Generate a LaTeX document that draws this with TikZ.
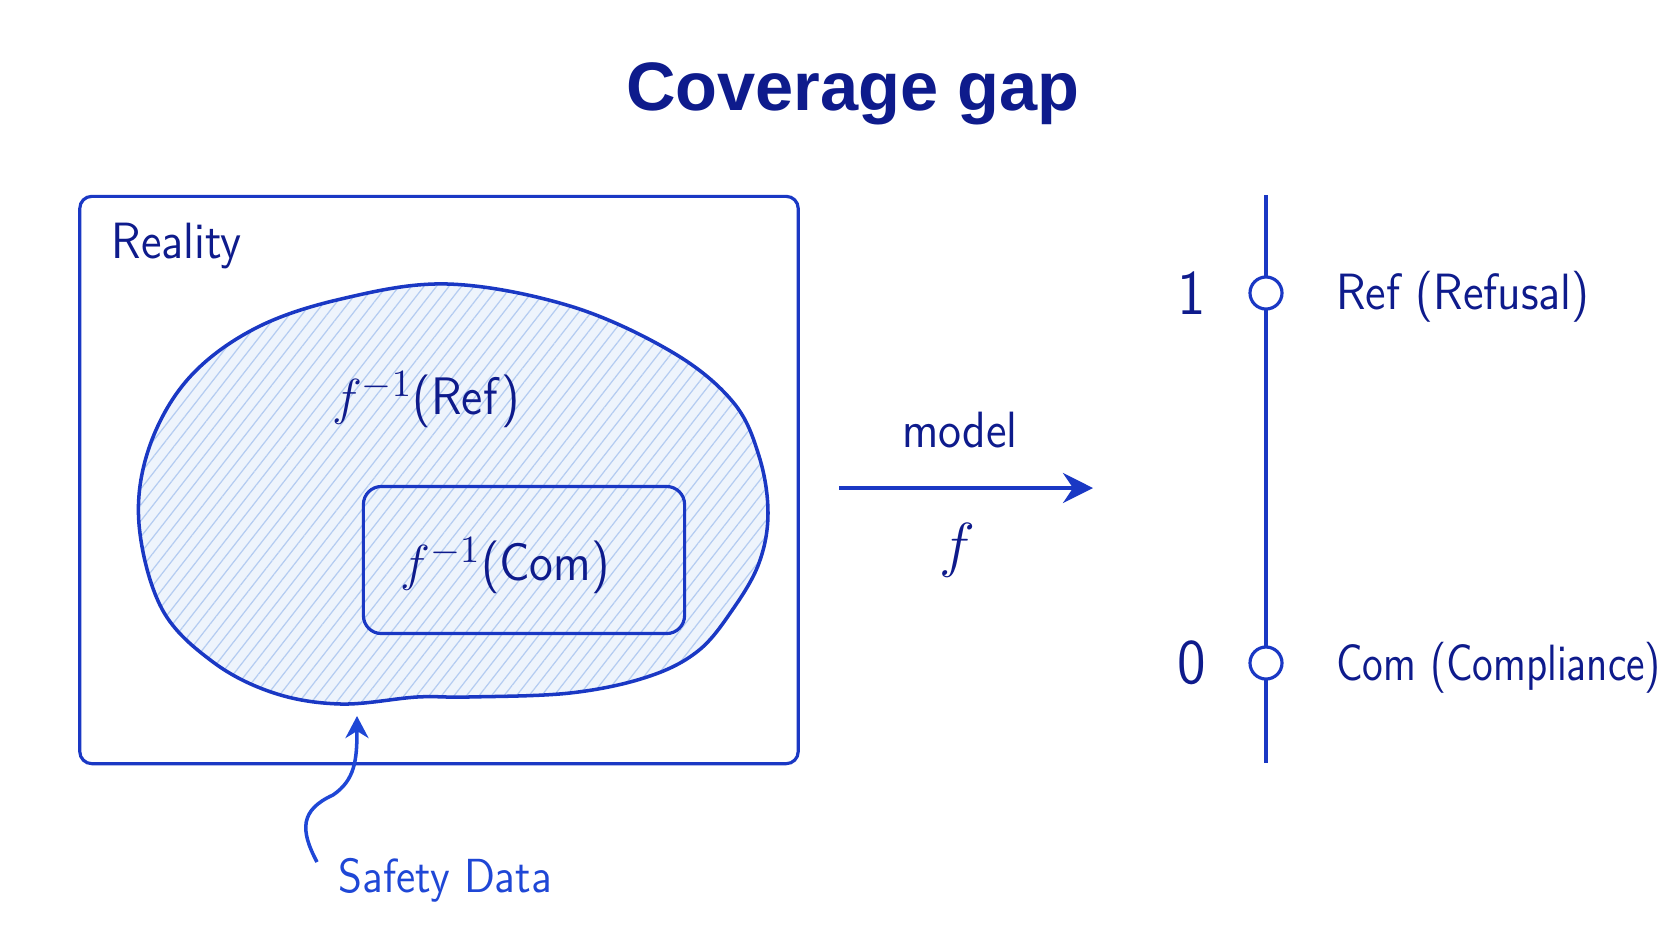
\documentclass[tikz,border=0pt]{standalone}
\usepackage{fontspec}
\newfontfamily\titlefont{Liberation Sans}
\newfontfamily\lblfont{lmsans12-regular.otf}[FakeStretch=0.92]
\newfontfamily\narrowfont{lmsans12-regular.otf}[FakeStretch=0.83]
\usepackage{tikz}
\usetikzlibrary{arrows.meta, positioning, patterns.meta}

\definecolor{navy}{HTML}{0E1B8C}
\definecolor{lineblue}{HTML}{1A38C4}
\definecolor{sdblue}{HTML}{1F47D6}
\definecolor{hatchbg}{HTML}{EEF4FC}
\definecolor{hatchln}{HTML}{B4CCF1}

\begin{document}
\begin{tikzpicture}[x=0.01cm, y=-0.01cm, >=Stealth,
    lbl/.style={text=navy, font=\lblfont\fontsize{14.5}{17}\selectfont, inner sep=0pt},
    numlbl/.style={text=navy, font=\lblfont\fontsize{18}{20}\selectfont, inner sep=0pt},
    realbox/.style={draw=lineblue, line width=0.9pt, rounded corners=1.2mm, inner sep=0pt},
    combox/.style={draw=lineblue, line width=0.9pt, rounded corners=1.8mm, inner sep=0pt},
    blobline/.style={draw=lineblue, line width=1pt},
    flow/.style={->, lineblue, line width=1pt, >={Stealth[length=3mm, width=3mm, inset=1mm]}},
    axisline/.style={lineblue, line width=0.9pt},
    dot/.style={circle, draw=lineblue, fill=white, line width=0.9pt, minimum size=0.32cm, inner sep=0pt},
    sdarrow/.style={->, sdblue, line width=1pt, >={Stealth[length=2.2mm, width=2.3mm, inset=0.7mm]}}]
  \useasboundingbox (0,0) rectangle (1672,941);
  \fill[white] (0,0) rectangle (1672,941);

  % Title
  \node[text=navy, font=\titlefont\bfseries\fontsize{19.5}{23}\selectfont] (title) at (853,94) {Coverage gap};

  % Reality frame
  \node[realbox, minimum width=7.18cm, minimum height=5.67cm] (reality) at (439,480) {};
  \node[lbl, anchor=north west] (realitylbl) at ([xshift=0.33cm, yshift=-0.28cm]reality.north west) {Reality};

  % Refusal region (hatched blob)
  \draw[blobline, preaction={fill=hatchbg},
        preaction={pattern={Lines[angle=52, distance=2.8pt, line width=0.35pt]}, pattern color=hatchln}]
    plot[smooth cycle, tension=0.6] coordinates {
      (448,284) (570,306) (672,352) (733,402) (759,456) (768,513) (759,563)
      (733,609) (698,651) (647,677) (570,693) (468,697) (417,697) (341,704)
      (274,693) (213,662) (162,609) (139,524) (149,448) (188,379) (254,329) (341,299)};
  \node[lbl, font=\lblfont\fontsize{15}{17}\selectfont] (reflbl) at (426,400) {$f^{-1}$(Ref)};

  % Compliance region
  \node[combox, minimum width=3.21cm, minimum height=1.47cm] (combox) at (524,560) {};
  \node[lbl, font=\lblfont\fontsize{15}{17}\selectfont] (comlbl) at (505,566) {$f^{-1}$(Com)};

  % Model map
  \coordinate (mstart) at (839,488);
  \coordinate (mend) at (1093,488);
  \draw[flow] (mstart) -- (mend);
  \node[lbl] (modellbl) at (960,430) {model};
  \node[text=navy, font=\fontsize{16}{18}\selectfont, inner sep=0pt] (flbl) at (957,550) {$f$};

  % Output axis
  \coordinate (axtop) at (1266,195);
  \coordinate (axbot) at (1266,763);
  \draw[axisline] (axtop) -- (axbot);
  \node[dot] (refdot) at (1266,293) {};
  \node[dot] (comdot) at (1266,663) {};
  \node[numlbl, left=0.42cm of refdot] (one) {1};
  \node[numlbl, left=0.42cm of comdot] (zero) {0};
  \node[lbl, right=0.52cm of refdot, yshift=-0.04cm] (refout) {Ref (Refusal)};
  \node[lbl, font=\narrowfont\fontsize{14.5}{17}\selectfont, right=0.52cm of comdot, yshift=-0.05cm] (comout) {Com (Compliance)};

  % Safety data pointer
  \node[lbl, text=sdblue, font=\lblfont\fontsize{13.6}{16}\selectfont, anchor=west] (sdlbl) at (338,880) {Safety Data};
  \coordinate (sdtail) at (317,862);
  \coordinate (sdtip) at (357,716);
  \draw[sdarrow] (sdtail) .. controls (300,830) and (300,810) .. (333,795)
    .. controls (355,780) and (357,760) .. (sdtip);
\end{tikzpicture}
\end{document}
